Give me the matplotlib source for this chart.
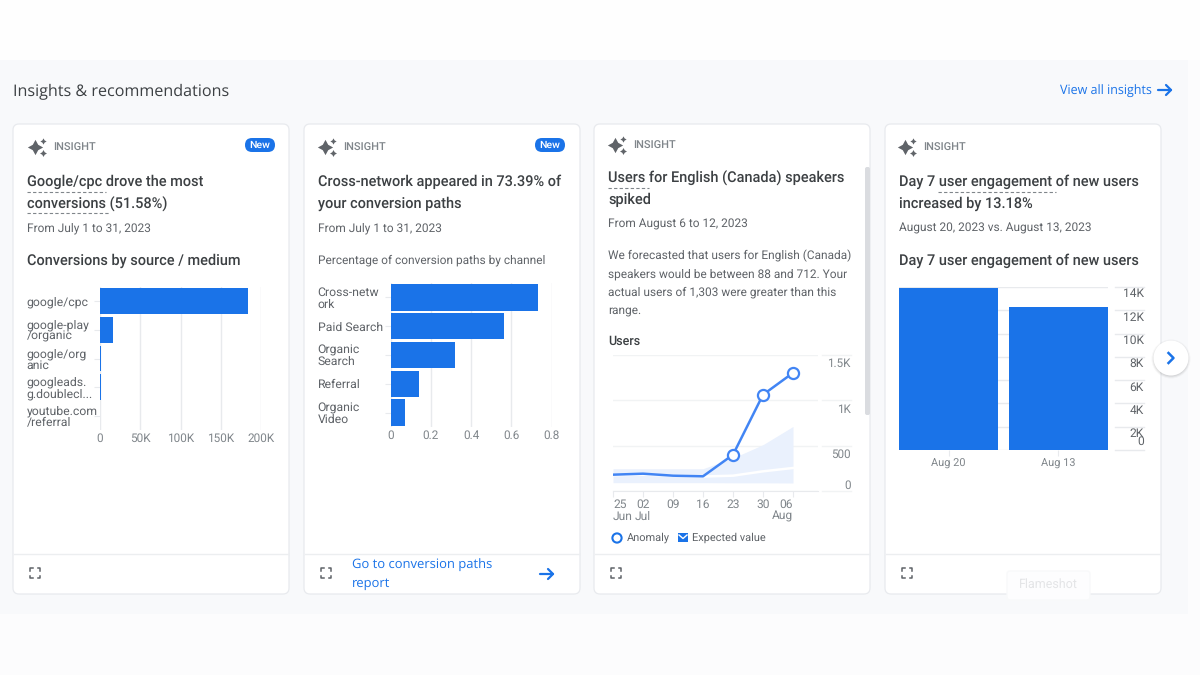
import matplotlib
matplotlib.use("Agg")
from matplotlib import pyplot as plt
from matplotlib.patches import FancyBboxPatch, Rectangle, Circle

plt.rcParams['font.family'] = ['Roboto', 'DejaVu Sans']
plt.rcParams['text.hinting'] = 'no_hinting'

BLUE = '#1a73e8'
DARK = '#3c4043'
GREY = '#5f6368'
LIGHT = '#80868b'
GRID = '#e8eaed'
TITLE_PX = 14.5

# card 1
source_labels = ['google/cpc', 'google-play\n/organic', 'google/org\nanic', 'googleads.\ng.doublecl...', 'youtube.com\n/referral']
source_values = [184000, 16000, 1500, 1200, 200]
source_ticks = [0, 50000, 100000, 150000, 200000]
source_ticklabels = ['0', '50K', '100K', '150K', '200K']

# card 2
channel_labels = ['Cross-netw\nork', 'Paid Search', 'Organic\nSearch', 'Referral', 'Organic\nVideo']
channel_values = [0.7339, 0.565, 0.32, 0.143, 0.073]
channel_ticks = [0, 0.2, 0.4, 0.6, 0.8]
channel_ticklabels = ['0', '0.2', '0.4', '0.6', '0.8']

# card 3
week_labels = ['25\nJun', '02\nJul', '09', '16', '23', '30', '06\nAug']
users = [180, 191, 169, 162, 400, 1062, 1303]
expected = [175, 180, 170, 160, 169, 217, 254]
band_low = [92, 92, 92, 92, 90, 90, 88]
band_high = [246, 246, 246, 246, 364, 511, 712]
anomaly_idx = [4, 5, 6]
user_ticks = [0, 500, 1000, 1500]
user_ticklabels = ['0', '500', '1K', '1.5K']

# card 4
day_labels = ['Aug 20', 'Aug 13']
day_values = [13900, 12280]
day_ticks = [0, 2000, 4000, 6000, 8000, 10000, 12000, 14000]
day_ticklabels = ['0', '2K', '4K', '6K', '8K', '10K', '12K', '14K']

card_x = [13, 304, 594, 885]


def fs(px):
    return px * 0.72


def inset(x0, y0, x1, y1):
    a = fig.add_axes([x0 / 1200, 1 - y1 / 675, (x1 - x0) / 1200, (y1 - y0) / 675])
    a.patch.set_alpha(0)
    for s in a.spines.values():
        s.set_visible(False)
    return a


def txt(x, y, s, px=12.5, color=GREY, weight='normal', **kw):
    kw.setdefault('ha', 'left')
    bg.text(x, y + 1, s, fontsize=fs(px), color=color, fontweight=weight, va='center', **kw)


def dashes(x0, x1, y):
    bg.plot([x0, x1], [y, y], color='#80868b', lw=0.8, ls=(0, (3, 2)))


def icon_insight(x, y):
    bg.plot(x - 2, y, marker=(4, 1, 0), ms=11, color=GREY, mew=0)
    bg.plot(x + 6, y - 6, marker=(4, 1, 0), ms=4.5, color=GREY, mew=0)
    bg.plot(x + 6, y + 6, marker=(4, 1, 0), ms=5, color=GREY, mew=0)


def icon_expand(cx, cy):
    r, c = 5, 2.5
    for sx in (-1, 1):
        for sy in (-1, 1):
            bg.plot([cx + sx * (r - c), cx + sx * r, cx + sx * r],
                    [cy + sy * r, cy + sy * r, cy + sy * (r - c)], color=GREY, lw=1.1)


def arrow(x0, x1, y, lw=1.6):
    bg.plot([x0, x1], [y, y], color=BLUE, lw=lw, solid_capstyle='round')
    bg.plot([x1 - 5, x1, x1 - 5], [y - 5, y, y + 5], color=BLUE, lw=lw, solid_capstyle='round')


def badge(x0, x1, y):
    bg.add_patch(FancyBboxPatch((x0, y - 7), x1 - x0, 14, boxstyle='round,pad=0,rounding_size=7',
                                lw=0, ec='none', fc=BLUE))
    txt((x0 + x1) / 2, y - 0.5, 'New', px=10.5, color='white', weight='medium', ha='center')


def style_hbar(a, ticks, ticklabels, labels, xmax, left_px):
    a.set_xlim(0, xmax)
    a.set_ylim(len(labels) - 0.5, -0.5)
    a.set_yticks(range(len(labels)))
    a.set_yticklabels([])
    # category labels sit flush left in the card, not against the axis
    tr = a.get_yaxis_transform()
    for i, lab in enumerate(labels):
        a.annotate(lab, xy=(0, i), xycoords=tr, xytext=(-left_px * 0.72, -0.72), textcoords='offset points',
                   ha='left', va='center', fontsize=fs(12.3), color=GREY, linespacing=1.0)
    a.set_xticks(ticks)
    a.set_xticklabels(ticklabels, fontsize=fs(11.8), color=LIGHT)
    a.grid(axis='x', color=GRID, lw=1)
    a.set_axisbelow(True)
    a.tick_params(axis='x', length=0, pad=2)
    a.tick_params(axis='y', length=4, width=0.8, color=GRID)


fig = plt.figure(figsize=(12, 6.75), dpi=100, facecolor='#fcfcfd')
bg = fig.add_axes([0, 0, 1, 1])
bg.set_xlim(0, 1200)
bg.set_ylim(675, 0)
bg.axis('off')

bg.add_patch(Rectangle((0, 0), 1200, 60, fc='#fefefe', ec='none'))
bg.add_patch(Rectangle((0, 60), 1188, 554, fc='#f8f9fb', ec='none'))

txt(13, 90.5, 'Insights & recommendations', px=16.1, color=DARK, family=['Open Sans', 'DejaVu Sans'])
txt(1060, 90, 'View all insights', px=12.5, color=BLUE, family=['Open Sans', 'DejaVu Sans'])
arrow(1158, 1171, 90)

for x in card_x:
    bg.add_patch(FancyBboxPatch((x, 124), 276, 470, boxstyle='round,pad=0,rounding_size=6',
                                fc='white', ec='#e8eaee', lw=0.9))
    bg.plot([x + 1, x + 275], [554, 554], color='#eceef0', lw=1)
    icon_expand(x + 22 if x != 13 else 35, 573)

# headers
for x, y in [(37, 147), (327, 147), (617, 145), (907, 147)]:
    icon_insight(x, y)
    txt(x + 16, y - 0.5, 'INSIGHT', px=11, color=LIGHT, weight='medium')
badge(245, 275, 145)
badge(535, 565, 145)

# card 1 text
txt(27, 181, 'Google/cpc drove the most', px=TITLE_PX, color=DARK, weight='medium')
txt(27, 203, 'conversions (51.58%)', px=TITLE_PX, color=DARK, weight='medium')
dashes(27, 106, 192)
dashes(27, 110, 213)
txt(27, 227, 'From July 1 to 31, 2023', px=11.9)
txt(27, 260, 'Conversions by source / medium', px=TITLE_PX, color=DARK, weight='medium')

# card 2 text
txt(318, 181, 'Cross-network appeared in 73.39% of', px=TITLE_PX, color=DARK, weight='medium')
txt(318, 203, 'your conversion paths', px=TITLE_PX, color=DARK, weight='medium')
txt(318, 227, 'From July 1 to 31, 2023', px=11.9)
txt(318, 259, 'Percentage of conversion paths by channel', px=11.9)
txt(352, 564, 'Go to conversion paths', px=13, color=BLUE, family=['Open Sans', 'DejaVu Sans'])
txt(352, 583, 'report', px=13, color=BLUE, family=['Open Sans', 'DejaVu Sans'])
arrow(540, 553, 574)

# card 3 text
txt(608, 177, 'Users for English (Canada) speakers', px=TITLE_PX, color=DARK, weight='medium')
txt(608, 199, 'spiked', px=TITLE_PX, color=DARK, weight='medium')
dashes(608, 649, 188)
txt(608, 223, 'From August 6 to 12, 2023', px=11.9)
txt(608, 255, 'We forecasted that users for English (Canada)', px=11.9)
txt(608, 273, 'speakers would be between 88 and 712. Your', px=11.9)
txt(608, 291, 'actual users of 1,303 were greater than this', px=11.9)
txt(608, 309, 'range.', px=11.9)
txt(608, 340, 'Users', px=12.5, color=DARK, weight='medium')
bg.add_patch(FancyBboxPatch((865, 167), 5, 248, boxstyle='round,pad=0,rounding_size=2',
                            fc='#dadce0', ec='none'))

# legend of card 3
bg.add_patch(Circle((617, 538), 4.6, fc='white', ec=BLUE, lw=1.5))
txt(627, 537, 'Anomaly', px=11)
bg.add_patch(Rectangle((678, 533), 10, 9, fc=BLUE, ec='none'))
bg.plot([679, 683, 687], [535, 538.5, 535], color='white', lw=1)
txt(692, 537, 'Expected value', px=11)

# card 4 text
txt(899, 181, 'Day 7 user engagement of new users', px=TITLE_PX, color=DARK, weight='medium')
txt(899, 203, 'increased by 13.18%', px=TITLE_PX, color=DARK, weight='medium')
dashes(938, 1056, 192)
txt(899, 227, 'August 20, 2023 vs. August 13, 2023', px=11.9)
txt(899, 260, 'Day 7 user engagement of new users', px=TITLE_PX, color=DARK, weight='medium')

# next button
for r, a in [(19.5, 0.03), (18.5, 0.05), (17.5, 0.06)]:
    bg.add_patch(Circle((1171, 359), r, fc='black', ec='none', alpha=a))
bg.add_patch(Circle((1171, 358), 17.5, fc='white', ec='none'))
bg.plot([1168.5, 1173.5, 1168.5], [353, 358, 363], color=BLUE, lw=1.8)

# faint tooltip
bg.add_patch(FancyBboxPatch((1007, 571), 83, 29, boxstyle='round,pad=0,rounding_size=3',
                            fc='#fdfdfe', ec='#f8f9fa', lw=1))
txt(1048, 583, 'Flameshot', px=12.5, color='#e4e5e7', ha='center')

# chart 1
ax1 = inset(100, 287, 261, 430)
ax1.barh(range(len(source_values)), source_values, height=0.9, color=BLUE)
style_hbar(ax1, source_ticks, source_ticklabels, source_labels, 200000, 100 - 26.5)

# chart 2
ax2 = inset(390.7, 283, 551.7, 427)
ax2.barh(range(len(channel_values)), channel_values, height=0.92, color=BLUE)
style_hbar(ax2, channel_ticks, channel_ticklabels, channel_labels, 0.8, 390.7 - 317.5)

# chart 3
ax3 = inset(613, 355, 818, 491)
days = range(len(users))
ax3.set_xlim(0, 205 / 30)
ax3.set_ylim(0, 1500)
ax3.fill_between(days, band_low, band_high, color='#eaf1fd', lw=0)
ax3.plot(days, expected, color='white', lw=1.8)
ax3.plot(days, users, color='#4285f4', lw=1.8)
ax3.plot([days[i] for i in anomaly_idx], [users[i] for i in anomaly_idx], ls='none', marker='o',
         ms=8, mfc='white', mec='#4285f4', mew=1.6, clip_on=False)
ax3.set_yticks(user_ticks)
ax3.set_yticklabels([])
ax3.grid(axis='y', color='#f1f3f4', lw=1)
ax3.set_axisbelow(True)
ax3.tick_params(axis='y', length=0)
ax3.spines['bottom'].set_visible(True)
ax3.spines['bottom'].set_color(GRID)
ax3.set_xticks(list(days))
ax3.set_xticklabels(week_labels, fontsize=fs(12), color=LIGHT, linespacing=1.0, va='top')
ax3.tick_params(axis='x', length=4, width=0.8, color=GRID, pad=2)
labels3 = ax3.get_xticklabels()
labels3[0].set_ha('left')
labels3[-1].set_ha('right')
tr3 = ax3.get_yaxis_transform()
for v, lab in zip(user_ticks, user_ticklabels):
    ax3.plot([1.02, 1.16], [v, v], transform=tr3, color='#f1f3f4', lw=1, clip_on=False)
    off = 5 if v == 0 else -9
    ax3.annotate(lab, xy=(1.16, v), xycoords=tr3, xytext=(0, off * 0.72), textcoords='offset points',
                 ha='right', va='center', fontsize=fs(11.6), color=LIGHT)

# chart 4
ax4 = inset(899, 287, 1108, 450)
ax4.bar(range(len(day_values)), day_values, width=0.908, color=BLUE)
ax4.set_xlim(-0.454, 1.454)
ax4.set_ylim(0, 14000)
ax4.set_yticks(day_ticks)
ax4.set_yticklabels([])
ax4.grid(axis='y', color=GRID, lw=1)
ax4.set_axisbelow(True)
ax4.tick_params(axis='y', length=0)
ax4.set_xticks(range(len(day_labels)))
ax4.set_xticklabels(day_labels, fontsize=fs(11), color=LIGHT)
ax4.tick_params(axis='x', length=4, width=0.8, color=GRID, pad=2)
tr4 = ax4.get_yaxis_transform()
for v, lab in zip(day_ticks, day_ticklabels):
    ax4.plot([1.033, 1.172], [v, v], transform=tr4, color=GRID, lw=1, clip_on=False)
    off = 8 if v == 0 else -7
    ax4.annotate(lab, xy=(1.172, v), xycoords=tr4, xytext=(0, off * 0.72), textcoords='offset points',
                 ha='right', va='center', fontsize=fs(12), color=GREY)

fig.savefig('out.png', dpi=100, facecolor=fig.get_facecolor())
